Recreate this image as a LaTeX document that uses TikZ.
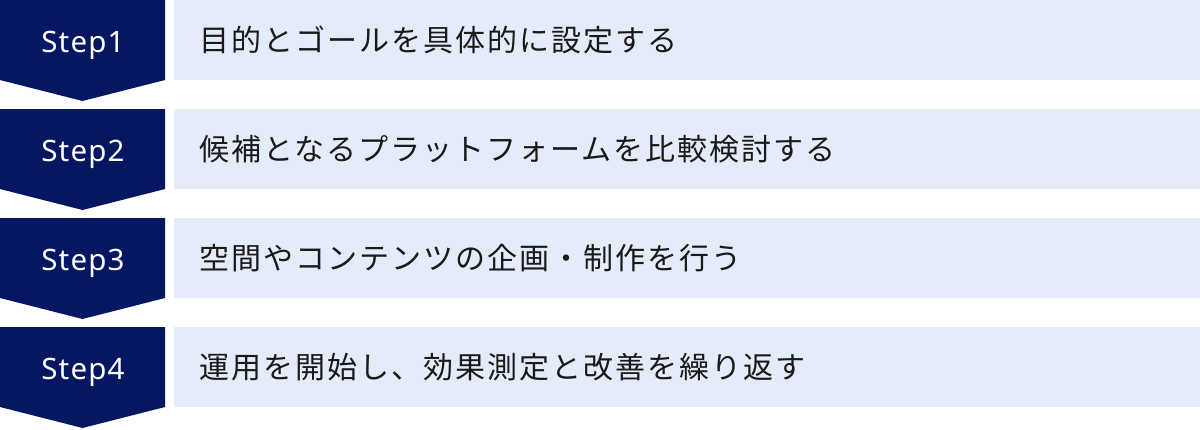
\documentclass[tikz,border=0pt]{standalone}
\usepackage{fontspec}
\setmainfont{Noto Sans CJK JP}
\newfontfamily\stepfont[LetterSpace=4]{Noto Sans}
\newfontfamily\jpfont[LetterSpace=6.7]{Noto Sans CJK JP}
\definecolor{navy}{HTML}{041760}
\definecolor{pale}{HTML}{E5ECF9}
\definecolor{ink}{HTML}{1A1A1A}
\tikzset{
  stepshape/.style={fill=navy, draw=none},
  bar/.style={fill=pale, draw=none},
  steplabel/.style={text=white, anchor=base, inner sep=0pt, font=\stepfont\fontsize{29.5}{29.5}\selectfont},
  barlabel/.style={text=ink, anchor=base west, inner sep=0pt, font=\jpfont\fontsize{30}{30}\selectfont}
}
\begin{document}
\begin{tikzpicture}[x=1pt,y=-1pt]
\useasboundingbox (0,0) rectangle (1200,429);
\foreach \i/\t in {1/目的とゴールを具体的に設定する,2/候補となるプラットフォームを比較検討する,3/空間やコンテンツの企画・制作を行う,4/運用を開始し、効果測定と改善を繰り返す}{
  \pgfmathsetmacro{\yy}{(\i-1)*109}
  \fill[stepshape] (0,\yy) -- (165,\yy) -- (165,\yy+80) -- (82.5,\yy+101) -- (0,\yy+80) -- cycle;
  \fill[bar] (174,\yy) rectangle (1200,\yy+80);
  \node[steplabel] (s\i) at (83,\yy+52) {Step\i};
  \node[barlabel] (t\i) at (199,\yy+51) {\t};
}
\end{tikzpicture}
\end{document}
